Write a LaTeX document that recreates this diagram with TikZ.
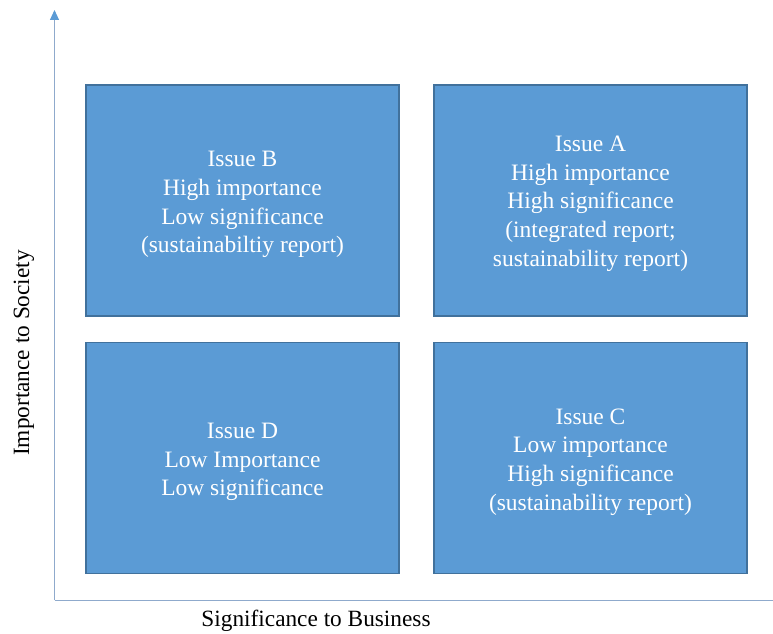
\documentclass[tikz,border=0pt]{standalone}
\usepackage{fontspec}
\setmainfont{Liberation Serif}
\usetikzlibrary{arrows.meta}
\definecolor{boxfill}{HTML}{5B9BD5}
\definecolor{boxline}{HTML}{41719C}
\definecolor{axisline}{HTML}{8FAACC}
\begin{document}
\begin{tikzpicture}[x=1pt,y=1pt,
  quad/.style={draw=boxline, line width=1.2pt, fill=boxfill, minimum width=313pt, minimum height=231pt, inner sep=0pt},
  quadtext/.style={inner sep=0pt, text=white, align=center, font=\fontsize{23.5}{28.7}\selectfont},
  axislabel/.style={font=\fontsize{23.3}{26}\selectfont, text=black}]
\useasboundingbox (0,0) rectangle (773,633);
% origin and axis ends
\coordinate (o) at (54.5,33);
\coordinate (ytip) at (54.5,623);
\coordinate (xend) at (775,33);
\draw[axisline, line width=1pt, -{Triangle[length=10pt,width=9pt,fill=boxfill,color=boxfill]}] (o) -- (ytip);
\draw[axisline, line width=1pt] (o) -- (xend);
% quadrants
\node[quad] (B) at (242.5,432.5) {};
\node[quad] (A) at (590.5,432.5) {};
\node[quad] (D) at (242.5,175) {};
\node[quad] (C) at (590.5,175) {};
% quadrant texts
\node[quadtext] (Bt) at ([yshift=-4pt]B.center) {Issue B\\High importance\\Low significance\\(sustainabiltiy report)};
\node[quadtext] (At) at ([yshift=-3pt]A.center) {Issue A\\High importance\\High significance\\(integrated report;\\sustainability report)};
\node[quadtext] (Dt) at ([yshift=-4pt]D.center) {Issue D\\Low Importance\\Low significance};
\node[quadtext] (Ct) at ([yshift=-4pt]C.center) {Issue C\\Low importance\\High significance\\(sustainability report)};
% axis titles
\node[axislabel] (xl) at (316,12) {Significance to Business};
\node[axislabel, rotate=90] (yl) at (24,280) {Importance to Society};
\end{tikzpicture}
\end{document}
